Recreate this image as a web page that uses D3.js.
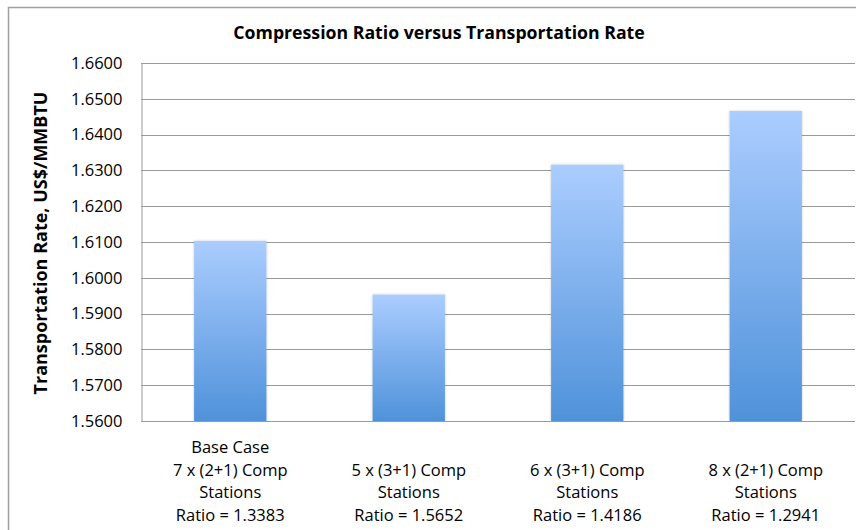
<!DOCTYPE html>
<html>
<head>
<meta charset="utf-8">
<script src="https://cdn.jsdelivr.net/npm/d3@7"></script>
<style>
  html, body { margin: 0; padding: 0; background: #fff; }
  svg { display: block; }
  text { font-family: "Open Sans", Lato, sans-serif; fill: #000; }
</style>
</head>
<body>
<svg id="chart" width="856" height="530"></svg>
<script>
// Chart data
const categories = [
  ["Base Case", "7 x (2+1) Comp", "Stations", "Ratio = 1.3383"],
  ["5 x (3+1) Comp", "Stations", "Ratio = 1.5652"],
  ["6 x (3+1) Comp", "Stations", "Ratio = 1.4186"],
  ["8 x (2+1) Comp", "Stations", "Ratio = 1.2941"]
];
const rates = [1.6103, 1.5953, 1.6316, 1.6466];
const yTicks = [1.56, 1.57, 1.58, 1.59, 1.60, 1.61, 1.62, 1.63, 1.64, 1.65, 1.66];
const titleText = "Compression Ratio versus Transportation Rate";
const yLabel = "Transportation Rate, US$/MMBTU";

const svg = d3.select("#chart");
const W = 856, H = 530;
const plot = { left: 141, right: 855, top: 63, bottom: 421 };

// Outer chart frame
svg.append("rect")
  .attr("x", 8.5).attr("y", 7.5)
  .attr("width", W + 10).attr("height", H + 10)
  .attr("fill", "#fff")
  .attr("stroke", "#a0a0a0").attr("stroke-width", 1.5);

// Bar gradient and soft edge shadow
const defs = svg.append("defs");
const grad = defs.append("linearGradient")
  .attr("id", "barGrad").attr("x1", 0).attr("y1", 0).attr("x2", 0).attr("y2", 1);
grad.append("stop").attr("offset", "0%").attr("stop-color", "#abcdff");
grad.append("stop").attr("offset", "100%").attr("stop-color", "#4f92da");
const shadow = defs.append("filter").attr("id", "barShadow")
  .attr("x", "-20%").attr("y", "-10%").attr("width", "140%").attr("height", "120%");
shadow.append("feDropShadow")
  .attr("dx", 0).attr("dy", 0).attr("stdDeviation", 1.2)
  .attr("flood-color", "#000").attr("flood-opacity", 0.25);

const x = d3.scaleBand()
  .domain(d3.range(categories.length))
  .range([plot.left, plot.right])
  .paddingInner(0.595).paddingOuter(0.2975);

const y = d3.scaleLinear()
  .domain([1.56, 1.66])
  .range([plot.bottom, plot.top]);

// Horizontal gridlines
svg.append("g")
  .selectAll("line")
  .data(yTicks)
  .join("line")
  .attr("x1", plot.left).attr("x2", plot.right)
  .attr("y1", d => Math.round(y(d)) + 0.5).attr("y2", d => Math.round(y(d)) + 0.5)
  .attr("stroke", "#9a9a9a").attr("stroke-width", 1);

// Y axis
const yAxis = svg.append("g")
  .attr("transform", `translate(${plot.left + 0.5},0)`)
  .call(d3.axisLeft(y).tickValues(yTicks).tickFormat(d3.format(".4f")).tickSize(0).tickPadding(19));
yAxis.select(".domain").attr("stroke", "#9a9a9a");
yAxis.selectAll("text")
  .style("font-family", "'Open Sans', Lato, sans-serif")
  .style("font-size", "16.5px").attr("fill", "#000");

// Bars
svg.append("g")
  .selectAll("rect")
  .data(rates)
  .join("rect")
  .attr("x", (d, i) => x(i))
  .attr("y", d => y(d))
  .attr("width", x.bandwidth())
  .attr("height", d => plot.bottom - y(d))
  .attr("fill", "url(#barGrad)")
  .attr("filter", "url(#barShadow)");

// X axis baseline
svg.append("line")
  .attr("x1", plot.left).attr("x2", plot.right)
  .attr("y1", plot.bottom + 0.5).attr("y2", plot.bottom + 0.5)
  .attr("stroke", "#9a9a9a");

// Category labels (bottom-aligned multi-line)
const lineH = 22.7;
const lastBase = 521;
categories.forEach((lines, i) => {
  const cx = x(i) + x.bandwidth() / 2;
  const t = svg.append("text")
    .attr("text-anchor", "middle")
    .style("font-size", "16.5px");
  lines.forEach((ln, k) => {
    t.append("tspan")
      .attr("x", cx)
      .attr("y", lastBase - (lines.length - 1 - k) * lineH)
      .text(ln);
  });
});

// Title
svg.append("text")
  .attr("x", 439).attr("y", 39)
  .attr("text-anchor", "middle")
  .style("font-size", "17.7px").style("font-weight", "bold")
  .text(titleText);

// Y axis title
svg.append("text")
  .attr("transform", `translate(47, ${(plot.top + plot.bottom) / 2 + 1}) rotate(-90)`)
  .attr("text-anchor", "middle")
  .style("font-size", "18px").style("font-weight", "bold")
  .text(yLabel);
</script>
</body>
</html>
